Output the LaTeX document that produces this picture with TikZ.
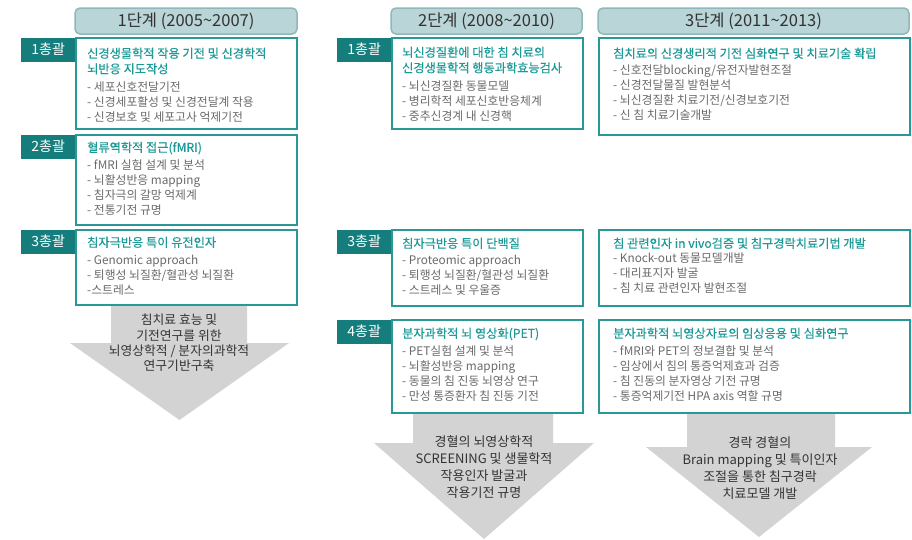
\documentclass[tikz,border=0pt]{standalone}
\usepackage{fontspec}
\setmainfont{Noto Sans CJK KR}
\newfontfamily\ttlfont{Noto Sans CJK KR}[FakeBold=0.35]
\usetikzlibrary{fit}
\definecolor{hdrfill}{HTML}{B9D5D7}
\definecolor{hdrline}{HTML}{8DB9BB}
\definecolor{boxline}{HTML}{2A9897}
\definecolor{lblfill}{HTML}{157E7D}
\definecolor{ttlcol}{HTML}{1C9A98}
\definecolor{itemcol}{HTML}{6A6A6A}
\definecolor{arrfill}{HTML}{D3D3D3}
\definecolor{txtcol}{HTML}{333333}
\begin{document}
\begin{tikzpicture}[x=1pt,y=-1pt,
 hdr/.style={draw=hdrline, line width=1.5pt, fill=hdrfill, rounded corners=5pt, inner sep=0pt, text=txtcol, font=\fontsize{16.5}{18}\selectfont},
 box/.style={draw=boxline, line width=1.3pt, fill=white, inner sep=0pt},
 lbl/.style={fill=lblfill, text=white, inner sep=0pt, minimum width=54pt, minimum height=24pt, anchor=north east, font=\fontsize{14}{16}\selectfont},
 ttl/.style={anchor=north west, inner sep=0pt, align=left, text=ttlcol, font=\ttlfont\fontsize{12.2}{15.5}\selectfont},
 itm/.style={anchor=north west, inner sep=0pt, align=left, text=itemcol, font=\fontsize{11.8}{15}\selectfont},
 arr/.style={fill=arrfill},
 arrtxt/.style={anchor=north, align=center, text=txtcol, inner sep=0pt, font=\fontsize{13}{17}\selectfont}
]
\useasboundingbox (0,0) rectangle (912,539);

% ---------- arrows ----------
\fill[arr] (111,305) -- (247,305) -- (247,343) -- (289,343) -- (179.5,420) -- (70,343) -- (111,343) -- cycle;
\fill[arr] (413,413) -- (553,413) -- (553,443) -- (594,443) -- (484,539) -- (374,443) -- (413,443) -- cycle;
\fill[arr] (687,413) -- (835,413) -- (835,447) -- (872,447) -- (759,537) -- (646,447) -- (687,447) -- cycle;

\node[arrtxt, font=\fontsize{12.8}{15.3}\selectfont] (a1) at (179,314) {침치료 효능 및\\기전연구를 위한\\뇌영상학적 / 분자의과학적\\연구기반구축};
\node[arrtxt] (a2) at (484,435) {경혈의 뇌영상학적\\SCREENING 및 생물학적\\작용인자 발굴과\\작용기전 규명};
\node[arrtxt] (a3) at (760,436) {경락 경혈의\\Brain mapping 및 특이인자\\조절을 통한 침구경락\\치료모델 개발};

% ---------- headers ----------
\node[hdr, minimum width=222pt, minimum height=26pt] (h1) at (186,21) {1단계 (2005\textasciitilde 2007)};
\node[hdr, minimum width=191pt, minimum height=26pt] (h2) at (486.5,21) {2단계 (2008\textasciitilde 2010)};
\node[hdr, minimum width=311pt, minimum height=26pt] (h3) at (753.5,21) {3단계 (2011\textasciitilde 2013)};

% ---------- boxes ----------
\node[box, fit={(76,38) (297,129)}] (b11) {};
\node[box, fit={(76,135) (297,225)}] (b12) {};
\node[box, fit={(76,230) (297,305)}] (b13) {};
\node[box, fit={(392,38) (583,129)}] (b21) {};
\node[box, fit={(392,230) (583,306)}] (b23) {};
\node[box, fit={(392,320) (583,413)}] (b24) {};
\node[box, fit={(599,38) (910,135)}] (b31) {};
\node[box, fit={(599,230) (910,306)}] (b33) {};
\node[box, fit={(599,320) (910,413)}] (b34) {};

% ---------- labels ----------
\node[lbl] (l11) at (b11.north west) {1총괄};
\node[lbl] (l12) at (b12.north west) {2총괄};
\node[lbl] (l13) at (b13.north west) {3총괄};
\node[lbl] (l21) at (b21.north west) {1총괄};
\node[lbl] (l23) at (b23.north west) {3총괄};
\node[lbl] (l24) at (b24.north west) {4총괄};

% ---------- texts: left column ----------
\node[ttl] (t11) at (87,47.5) {신경생물학적 작용 기전 및 신경학적\\뇌반응 지도작성};
\node[itm] (i11) at (87,81.5) {- 세포신호전달기전\\- 신경세포활성 및 신경전달계 작용\\- 신경보호 및 세포고사 억제기전};

\node[ttl] (t12) at (87,141.5) {혈류역학적 접근(fMRI)};
\node[itm] (i12) at (87,159.5) {- fMRI 실험 설계 및 분석\\- 뇌활성반응 mapping\\- 침자극의 갈망 억제계\\- 전통기전 규명};

\node[ttl] (t13) at (87,236.5) {침자극반응 특이 유전인자};
\node[itm] (i13) at (87,254.5) {- Genomic approach\\- 퇴행성 뇌질환/혈관성 뇌질환\\-스트레스};

% ---------- texts: middle column ----------
\node[ttl] (t21) at (402,46.5) {뇌신경질환에 대한 침 치료의\\신경생물학적 행동과학효능검사};
\node[itm] (i21) at (402,80.5) {- 뇌신경질환 동물모델\\- 병리학적 세포신호반응체계\\- 중추신경계 내 신경핵};

\node[ttl] (t23) at (402,237.5) {침자극반응 특이 단백질};
\node[itm] (i23) at (402,254.5) {- Proteomic approach\\- 퇴행성 뇌질환/혈관성 뇌질환\\- 스트레스 및 우울증};

\node[ttl] (t24) at (402,327.5) {분자과학적 뇌 영상화(PET)};
\node[itm] (i24) at (402,345.5) {- PET실험 설계 및 분석\\- 뇌활성반응 mapping\\- 동물의 침 진동 뇌영상 연구\\- 만성 통증환자 침 진동 기전};

% ---------- texts: right column ----------
\node[ttl] (t31) at (613,47.5) {침치료의 신경생리적 기전 심화연구 및 치료기술 확립};
\node[itm] (i31) at (613,64.5) {- 신호전달blocking/유전자발현조절\\- 신경전달물질 발현분석\\- 뇌신경질환 치료기전/신경보호기전\\- 신 침 치료기술개발};

\node[ttl] (t33) at (613,237.5) {침 관련인자 in vivo검증 및 침구경락치료기법 개발};
\node[itm] (i33) at (613,252.5) {- Knock-out 동물모델개발\\- 대리표지자 발굴\\- 침 치료 관련인자 발현조절};

\node[ttl] (t34) at (613,327.5) {분자과학적 뇌영상자료의 임상응용 및 심화연구};
\node[itm] (i34) at (613,345.5) {- fMRI와 PET의 정보결합 및 분석\\- 임상에서 침의 통증억제효과 검증\\- 침 진동의 분자영상 기전 규명\\- 통증억제기전 HPA axis 역할 규명};
\end{tikzpicture}
\end{document}
